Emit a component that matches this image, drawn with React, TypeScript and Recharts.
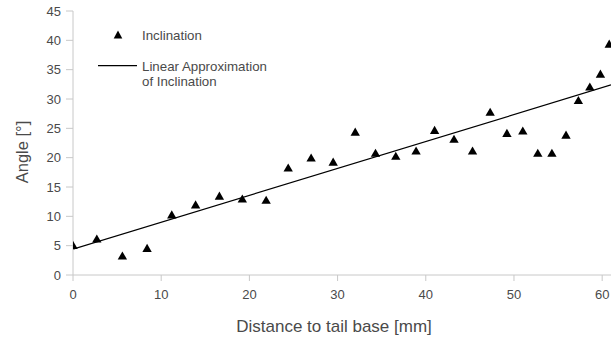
import React from 'react';
import { ComposedChart, Scatter, Line, XAxis, YAxis, ZAxis } from 'recharts';

const distances = [0, 2.7, 5.6, 8.4, 11.2, 13.9, 16.6, 19.2, 21.9, 24.4, 27.0, 29.5, 32.0, 34.3, 36.6, 38.9, 41.0, 43.2, 45.3, 47.3, 49.2, 51.0, 52.7, 54.3, 55.9, 57.3, 58.6, 59.8, 60.8];
const inclination = [4.9, 6.0, 3.1, 4.4, 10.1, 11.8, 13.3, 12.8, 12.6, 18.1, 19.8, 19.1, 24.2, 20.6, 20.1, 21.0, 24.5, 23.0, 21.0, 27.6, 24.0, 24.4, 20.6, 20.6, 23.7, 29.6, 31.9, 34.1, 39.2];
const fitX = [0, 61];
const fitY = [4.4, 32.4];
const xTicks = [0, 10, 20, 30, 40, 50, 60];
const yTicks = [0, 5, 10, 15, 20, 25, 30, 35, 40, 45];

const scatterData = distances.map((x, i) => ({ x, angle: inclination[i] }));
const fitData = fitX.map((x, i) => ({ x, fit: fitY[i] }));

const FONT = '"Liberation Sans", Arial, sans-serif';
const AXIS = '#c8c8c8';
const TXT = '#4a4a4a';

export default function App() {
  return (
    <div style={{ position: 'absolute', left: 0, top: 0, width: 611, height: 338, background: '#fff', fontFamily: FONT }}>
      <ComposedChart width={611} height={338} margin={{ top: 11, right: 0, left: 0, bottom: 0 }}>
        <XAxis
          type="number"
          dataKey="x"
          domain={[0, 61]}
          ticks={xTicks}
          allowDataOverflow
          height={63}
          tickSize={6}
          tickMargin={9}
          stroke={AXIS}
          tick={{ fill: TXT, fontSize: 13, fontFamily: FONT }}
          tickLine={{ stroke: AXIS }}
          label={{
            content: () => (
              <text x={334} y={332} textAnchor="middle" fill={TXT} fontSize={17} fontFamily={FONT}>
                Distance to tail base [mm]
              </text>
            ),
          }}
        />
        <YAxis
          type="number"
          domain={[0, 45]}
          ticks={yTicks}
          width={73}
          tickSize={7}
          tickMargin={5}
          stroke={AXIS}
          tick={{ fill: TXT, fontSize: 13, fontFamily: FONT }}
          tickLine={{ stroke: AXIS }}
          label={{
            content: () => (
              <text x={28} y={152} transform="rotate(-90, 28, 152)" textAnchor="middle" fill={TXT} fontSize={16.5} fontFamily={FONT}>
                Angle [°]
              </text>
            ),
          }}
        />
        <ZAxis range={[38, 38]} />
        <Line
          data={fitData}
          dataKey="fit"
          type="linear"
          stroke="#000"
          strokeWidth={1.2}
          dot={false}
          activeDot={false}
          isAnimationActive={false}
        />
        <Scatter data={scatterData} dataKey="angle" shape="triangle" fill="#000" isAnimationActive={false} />
      </ComposedChart>
      <svg width={611} height={338} style={{ position: 'absolute', left: 0, top: 0, pointerEvents: 'none' }}>
        <path d="M118,30.5 L122.3,38.5 L113.7,38.5 Z" fill="#000" />
        <text x={142} y={39.5} fill={TXT} fontSize={13.3} fontFamily={FONT}>Inclination</text>
        <line x1={98} y1={65.7} x2={137} y2={65.7} stroke="#000" strokeWidth={1.2} />
        <text x={142} y={71.3} fill={TXT} fontSize={13.3} fontFamily={FONT}>Linear Approximation</text>
        <text x={142} y={85.7} fill={TXT} fontSize={13.3} fontFamily={FONT}>of Inclination</text>
      </svg>
    </div>
  );
}
